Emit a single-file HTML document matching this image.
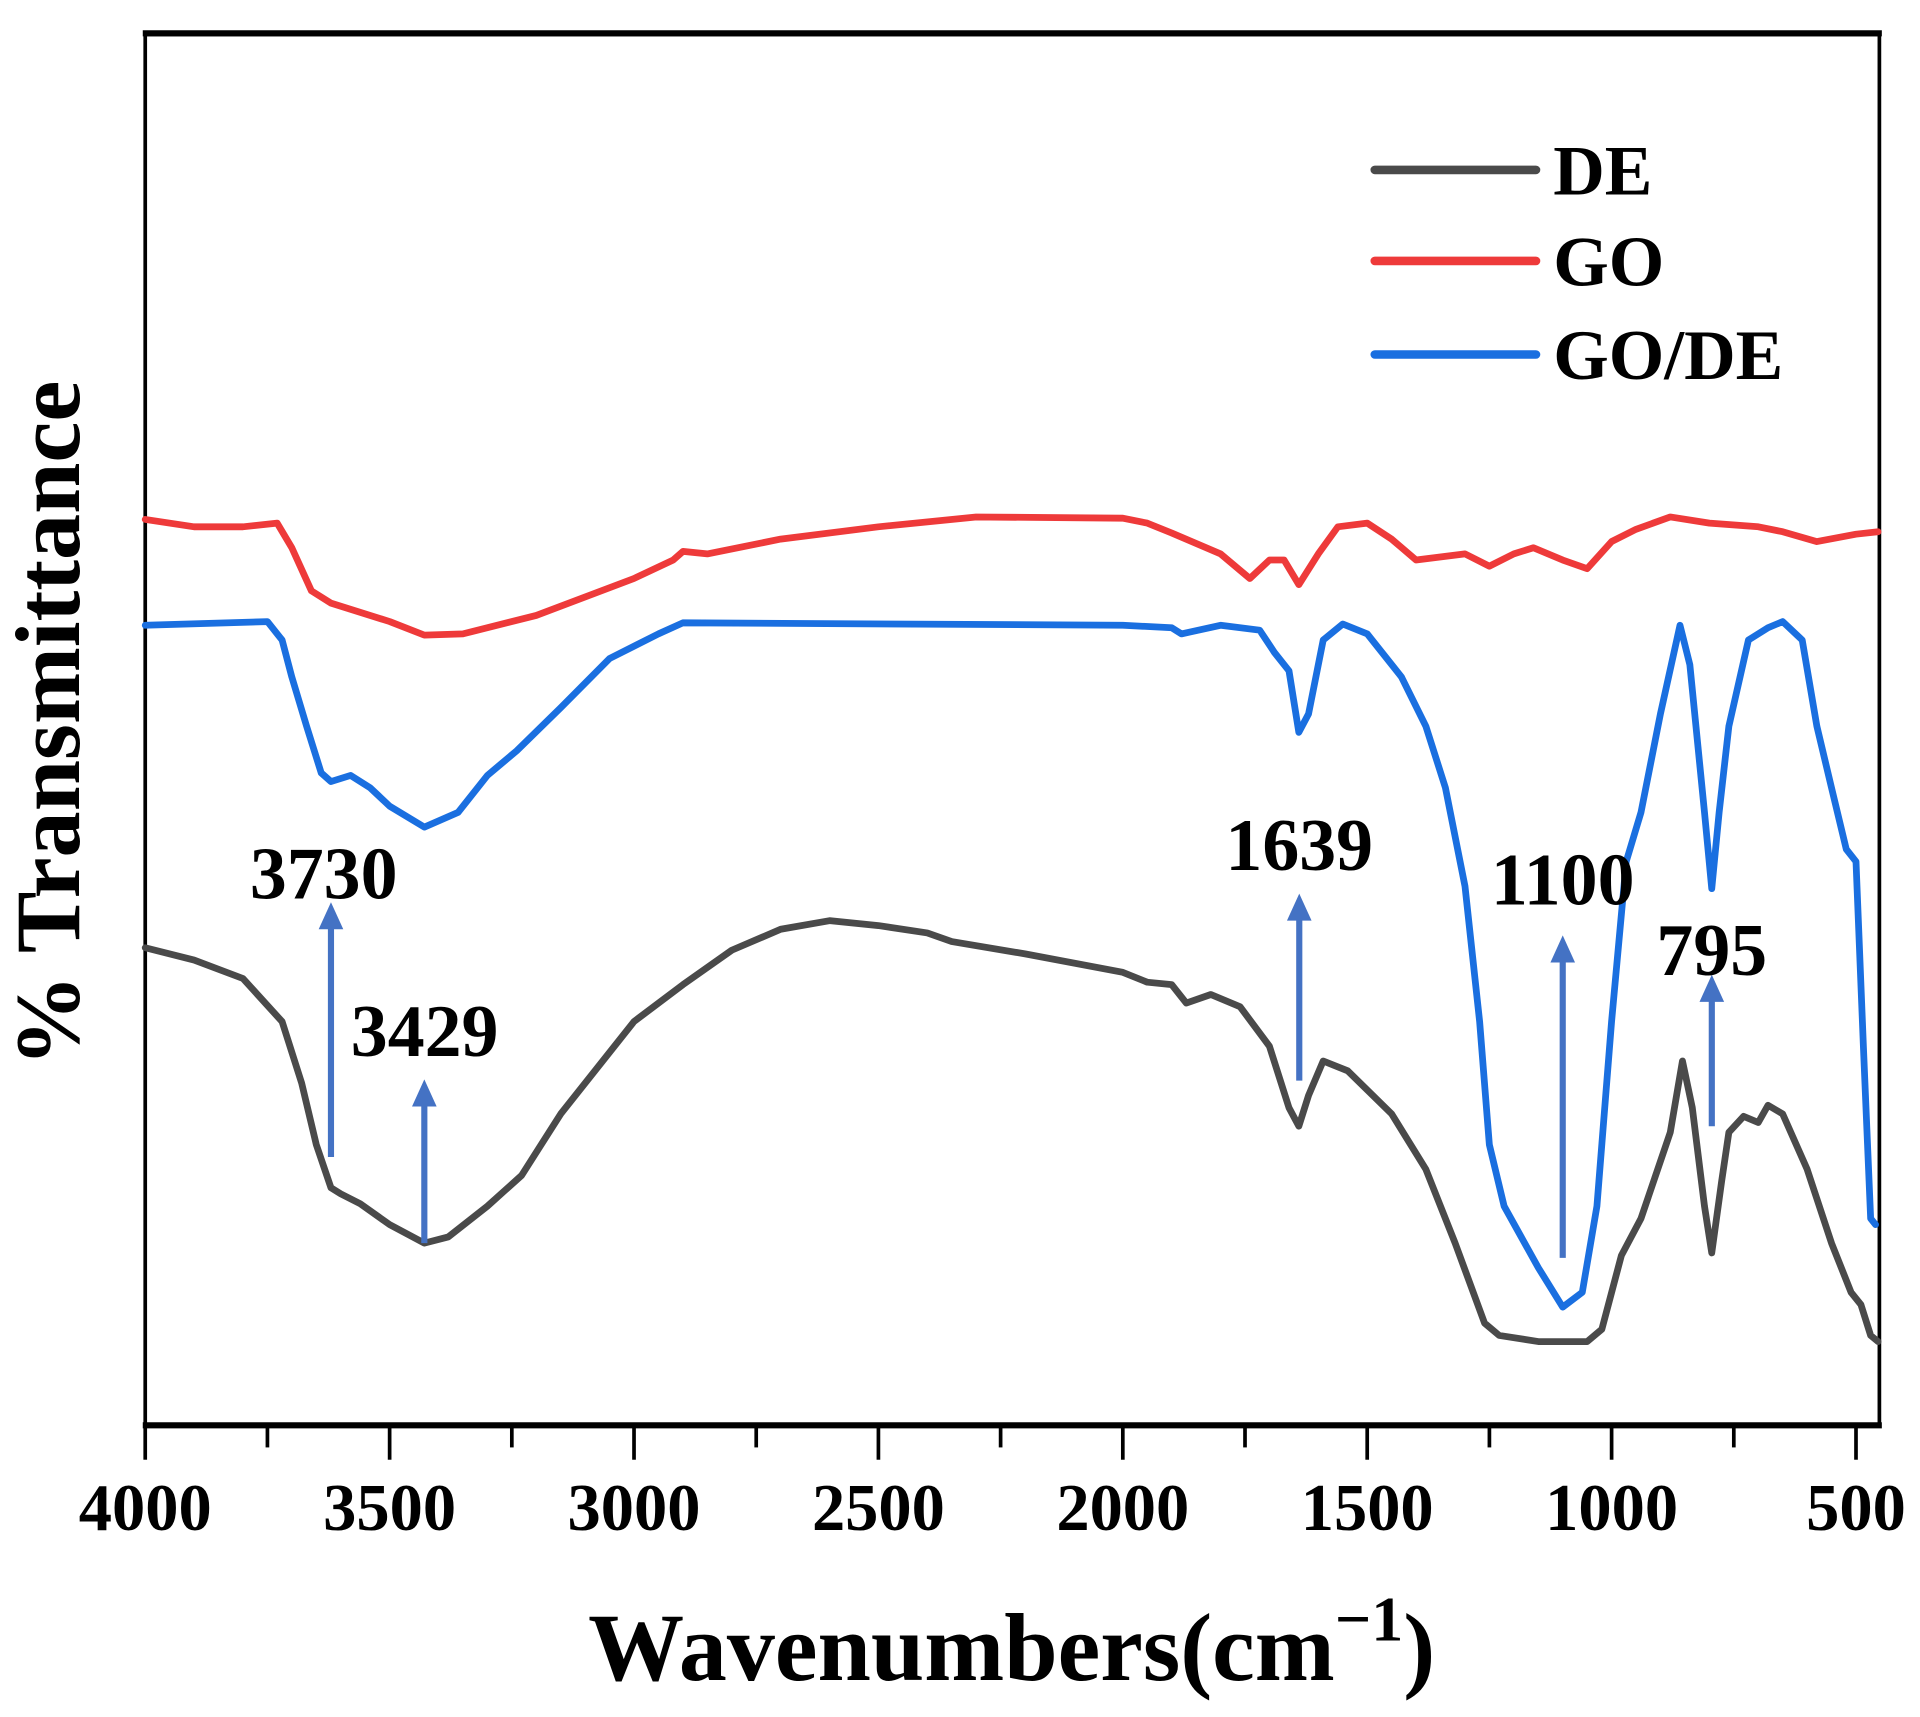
<!DOCTYPE html>
<html><head><meta charset="utf-8"><style>
html,body{margin:0;padding:0;background:#fff;}
svg{display:block;font-family:"Liberation Serif",serif;font-weight:bold;}
</style></head><body>
<svg id="chart" width="1920" height="1717" viewBox="0 0 1560 1395" xmlns="http://www.w3.org/2000/svg">
<g id="plot"></g>
</svg>
<script>
// wavenumbers (cm-1) and transmittance (a.u.)
const deX=[4000,3900,3800,3720,3680,3650,3620,3600,3560,3500,3429,3380,3300,3230,3150,3000,2900,2800,2700,2600,2500,2400,2350,2200,2000,1950,1900,1870,1820,1760,1700,1660,1640,1620,1590,1540,1450,1380,1320,1260,1230,1150,1050,1020,980,940,880,855,835,810,795,775,760,730,700,680,650,600,550,510,490,470,455];
const deY=[388,378,363,328,278,228,193,188,180,163,148,153,178,203,253,328,358,386,403,410,406,400,393,383,368,360,358,343,350,340,308,258,243,268,296,288,253,208,148,83,73,68,68,78,138,168,238,296,258,178,140,198,238,251,246,260,253,208,148,108,98,73,68];
const gdX=[4000,3750,3720,3700,3670,3640,3620,3580,3540,3500,3429,3360,3300,3240,3150,3050,2950,2900,2000,1900,1880,1800,1720,1690,1660,1640,1620,1590,1550,1500,1430,1380,1340,1300,1270,1250,1220,1150,1100,1060,1030,1000,970,940,900,860,840,810,795,780,760,720,680,650,610,580,550,520,500,485,470,460];
const gdY=[650,653,638,608,568,530,523,528,518,503,486,498,528,548,583,623,643,652,650,648,643,650,646,628,613,563,578,638,651,643,608,568,518,438,328,228,178,128,96,108,178,328,458,498,578,650,618,498,436,498,568,638,648,653,638,568,518,468,458,308,168,163];
const goX=[4000,3900,3800,3730,3700,3660,3620,3500,3429,3350,3200,3000,2920,2900,2850,2700,2500,2300,2000,1950,1900,1800,1740,1700,1670,1640,1600,1560,1500,1450,1400,1300,1250,1200,1160,1100,1050,1000,950,880,800,700,650,580,500,455];
const goY=[736,730,730,733,713,678,668,653,642,643,658,688,703,710,708,720,730,738,737,733,725,708,688,703,703,683,708,730,733,720,703,708,698,708,713,703,696,718,728,738,733,730,726,718,724,726];
const xTicks=[4000,3500,3000,2500,2000,1500,1000,500];
const peaks=[3620,3429,1639,1100,795];
const peakLabels=["3730","3429","1639","1100","795"];
const arrowBase=[218,148,280,136,243];
const arrowTip=[425,281,432,398,366];
const labelY=[428,300,451,423,366];

const X0=118,XW=(1508-118)/3500,YB=1158;
const xs=w=>X0+(4000-w)*XW;
const ys=v=>YB-v;
const NS="http://www.w3.org/2000/svg";
const svg=document.getElementById('chart');
function mk(tag,attrs,parent){const e=document.createElementNS(NS,tag);for(const k in attrs)e.setAttribute(k,attrs[k]);(parent||svg).appendChild(e);return e;}

const fr=mk('rect',{x:118,y:28,width:1409,height:1130,fill:'none',stroke:'#000','stroke-width':3});


const tb=mk('line',{x1:116,y1:27,x2:1529,y2:27,stroke:'#000','stroke-width':5});


const bb=mk('line',{x1:116,y1:1158,x2:1529,y2:1158,stroke:'#000','stroke-width':5});



for(let w=4000;w>=500;w-=250){
  const major=w%500===0;
  const t=mk('line',{x1:xs(w),x2:xs(w),y1:1158,y2:major?1186:1176,stroke:'#000','stroke-width':3});
  
  
}
xTicks.forEach(w=>{
  const t=mk('text',{x:xs(w),y:1243,'text-anchor':'middle','font-size':54});
  t.textContent=w;
  
  
});

function series(X,Y,color,name){
  let d='';X.forEach((w,i)=>{d+=(i?'L':'M')+xs(w).toFixed(1)+','+ys(Y[i]).toFixed(1);});
  const p=mk('path',{d:d,fill:'none',stroke:color,'stroke-width':5.5,'stroke-linejoin':'round','stroke-linecap':'round'});
  
  
}
series(deX,deY,'#4a4a4a','de-line');
series(goX,goY,'#ee3a3a','go-line');
series(gdX,gdY,'#1a6fe0','go-de-line');

peaks.forEach((w,i)=>{
  const x=xs(w);
  const l=mk('line',{x1:x,x2:x,y1:ys(arrowBase[i]),y2:ys(arrowTip[i])+18,stroke:'#4472c4','stroke-width':5});
  
  
  const ty=ys(arrowTip[i]);
  const h=mk('polygon',{points:`${x-10},${ty+22} ${x+10},${ty+22} ${x},${ty}`,fill:'#4472c4'});
  
  
  const t=mk('text',{x:(i===0?263:i===1?345:x),y:ys(labelY[i]),'text-anchor':'middle','font-size':60});
  t.textContent=peakLabels[i];
  
  
});

[['DE','#4a4a4a',138],['GO','#ee3a3a',212],['GO/DE','#1a6fe0',288]].forEach(([n,c,y])=>{
  const l=mk('line',{x1:1117,x2:1248,y1:y,y2:y,stroke:c,'stroke-width':7,'stroke-linecap':'round'});
  
  
  const t=mk('text',{x:1262,y:y+20,'font-size':58});
  t.textContent=n;
  
  
});

const xt=mk('text',{x:822,y:1365,'text-anchor':'middle','font-size':78});
xt.innerHTML='Wavenumbers(cm<tspan dy="-32" font-size="52">−1</tspan><tspan dy="32">)</tspan>';


const yt=mk('text',{x:0,y:0,'text-anchor':'middle','font-size':75,transform:'translate(64,588) rotate(-90)'});
yt.textContent='% Transmittance';


</script>
</body></html>
